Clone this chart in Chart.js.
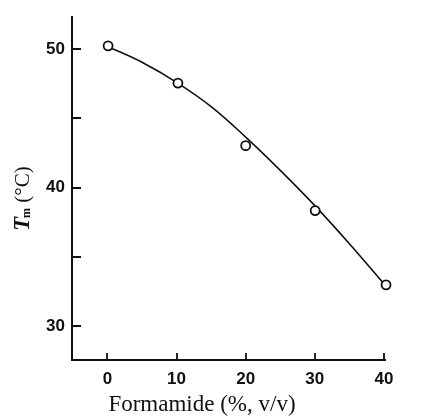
<!DOCTYPE html>
<html>
<head>
<meta charset="utf-8">
<script src="https://cdn.jsdelivr.net/npm/chart.js@4/dist/chart.umd.min.js"></script>
<style>
  html, body { margin: 0; padding: 0; background: #fff; }
  canvas { display: block; }
</style>
</head>
<body>
<canvas id="c" width="431" height="416"></canvas>
<script>
// Measured points
const formamide = [0.1, 10.2, 20, 30.05, 40.3];
const tm = [50.24, 47.55, 43.03, 38.34, 32.98];
// Fitted curve
const curveX = [0, 5, 10, 15, 20, 25, 30, 35, 40];
const curveY = [50.2, 49.05, 47.6, 45.85, 43.65, 41.25, 38.7, 35.95, 33.05];
// Ticks
const xTicks = [0, 10, 20, 30, 40];
const yTicks = [30, 35, 40, 45, 50];
const yLabelled = [30, 40, 50];
const xTitle = 'Formamide (%, v/v)';
const yTitleMain = 'T';
const yTitleSub = 'm';
const yTitleRest = ' (°C)';

const ink = '#111';

const pointsData = formamide.map((x, i) => ({x, y: tm[i]}));
const curveData = curveX.map((x, i) => ({x, y: curveY[i]}));

const inwardTicks = {
  id: 'inwardTicks',
  afterDraw(chart) {
    const {ctx, chartArea} = chart;
    const xs = chart.scales.x, ys = chart.scales.y;
    ctx.save();
    ctx.strokeStyle = ink;
    ctx.lineWidth = 1.8;
    ctx.beginPath();
    xTicks.forEach(v => {
      const px = Math.round(xs.getPixelForValue(v));
      ctx.moveTo(px, chartArea.bottom);
      ctx.lineTo(px, chartArea.bottom - 7);
    });
    yTicks.forEach(v => {
      const py = Math.round(ys.getPixelForValue(v));
      ctx.moveTo(chartArea.left, py);
      ctx.lineTo(chartArea.left + 9, py);
    });
    ctx.stroke();

    // x title
    ctx.fillStyle = ink;
    ctx.font = '23px "Liberation Serif", serif';
    ctx.textAlign = 'center';
    ctx.textBaseline = 'middle';
    ctx.fillText(xTitle, chartArea.left + 130, 405);

    // y title (rotated) with subscript
    ctx.translate(29, 231);
    ctx.rotate(-Math.PI / 2);
    ctx.textAlign = 'left';
    ctx.textBaseline = 'alphabetic';
    ctx.font = 'italic bold 23px "Liberation Serif", serif';
    ctx.fillText(yTitleMain, 0, 0);
    let w = ctx.measureText(yTitleMain).width;
    ctx.font = 'bold 12px "Liberation Serif", serif';
    ctx.fillText(yTitleSub, w - 1, 1);
    w += ctx.measureText(yTitleSub).width - 1;
    ctx.font = '21px "Liberation Serif", serif';
    ctx.fillText(yTitleRest, w, 0);
    ctx.restore();
  }
};

new Chart(document.getElementById('c'), {
  type: 'scatter',
  data: {
    datasets: [
      {
        label: 'Tm',
        data: pointsData,
        pointRadius: 4.5,
        pointBorderWidth: 1.8,
        pointBackgroundColor: '#fff',
        pointBorderColor: ink,
        showLine: false,
        clip: false
      },
      {
        label: 'fit',
        data: curveData,
        showLine: true,
        pointRadius: 0,
        borderColor: ink,
        borderWidth: 1.6,
        tension: 0.4,
        fill: false,
        clip: false
      }
    ]
  },
  options: {
    responsive: false,
    animation: false,
    devicePixelRatio: 1,
    layout: { padding: { top: 13, right: 46, left: 0, bottom: 0 } },
    plugins: { legend: { display: false }, tooltip: { enabled: false } },
    scales: {
      x: {
        type: 'linear',
        min: -5.12,
        max: 40.15,
        afterBuildTicks: s => { s.ticks = xTicks.map(v => ({value: v})); },
        afterFit: s => { s.height = 56; },
        grid: { display: true, drawOnChartArea: false, drawTicks: false },
        border: { display: true, color: ink, width: 2 },
        ticks: {
          color: ink,
          padding: 9,
          maxRotation: 0,
          autoSkip: false,
          font: { family: '"Liberation Sans", sans-serif', weight: 'bold', size: 17 }
        }
      },
      y: {
        type: 'linear',
        min: 27.55,
        max: 52.31,
        afterBuildTicks: s => { s.ticks = yTicks.map(v => ({value: v})); },
        afterFit: s => { s.width = 72; },
        grid: { display: true, drawOnChartArea: false, drawTicks: false },
        border: { display: true, color: ink, width: 2 },
        ticks: {
          color: ink,
          padding: 7,
          autoSkip: false,
          callback: v => yLabelled.includes(v) ? String(v) : '',
          font: { family: '"Liberation Sans", sans-serif', weight: 'bold', size: 17 }
        }
      }
    }
  },
  plugins: [inwardTicks]
});
</script>
</body>
</html>
